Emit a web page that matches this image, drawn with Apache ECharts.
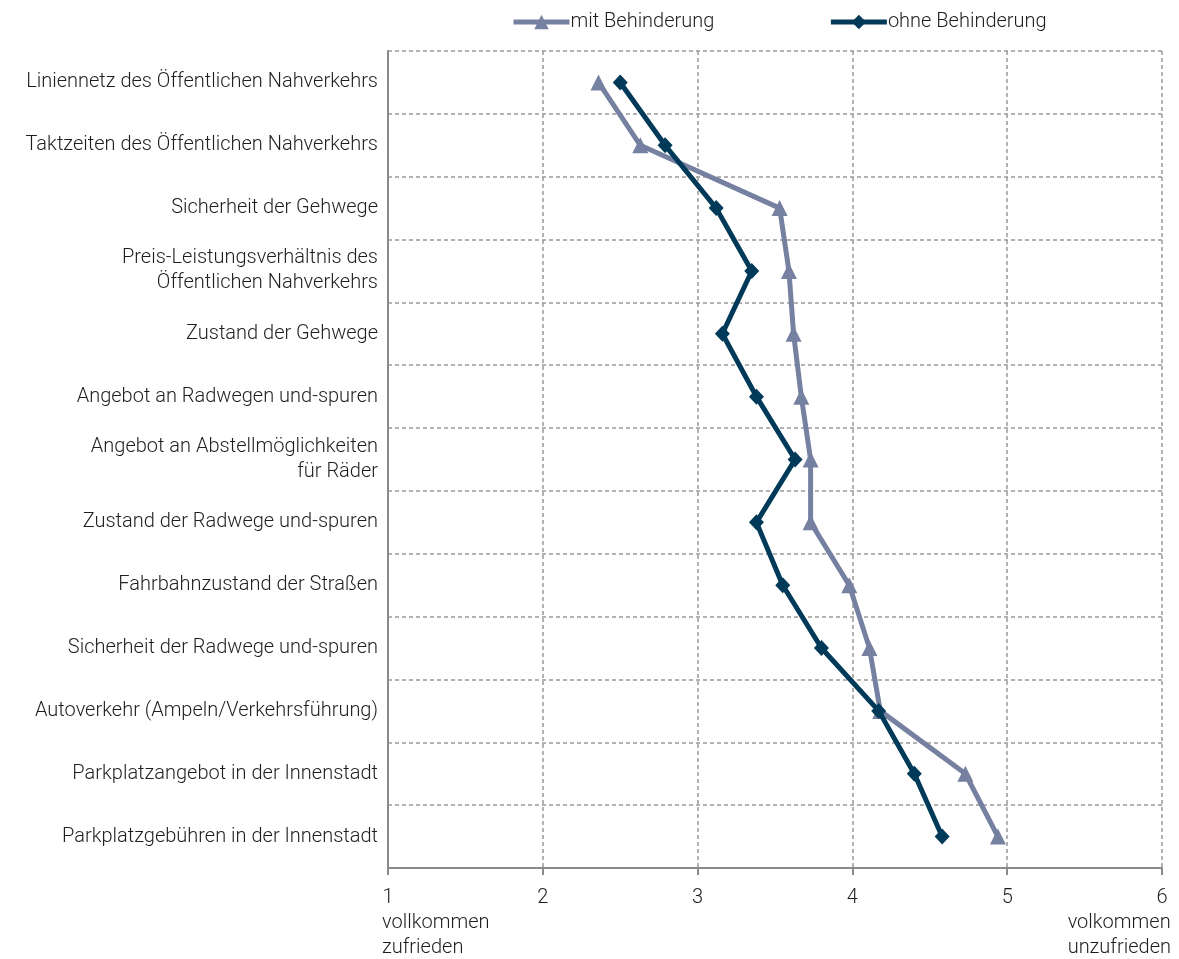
<!DOCTYPE html>
<html>
<head>
<meta charset="utf-8">
<script src="https://cdn.jsdelivr.net/npm/echarts@6/dist/echarts.min.js"></script>
<style>
  html, body { margin: 0; padding: 0; background: #fff; }
  #chart { width: 1179px; height: 959px; }
</style>
</head>
<body>
<div id="chart"></div>
<script>
var categories = [
	'Liniennetz des Öffentlichen Nahverkehrs',
	'Taktzeiten des Öffentlichen Nahverkehrs',
	'Sicherheit der Gehwege',
	'Preis-Leistungsverhältnis des\nÖffentlichen Nahverkehrs',
	'Zustand der Gehwege',
	'Angebot an Radwegen und-spuren',
	'Angebot an Abstellmöglichkeiten\nfür Räder',
	'Zustand der Radwege und-spuren',
	'Fahrbahnzustand der Straßen',
	'Sicherheit der Radwege und-spuren',
	'Autoverkehr (Ampeln/Verkehrsführung)',
	'Parkplatzangebot in der Innenstadt',
	'Parkplatzgebühren in der Innenstadt'
];
var mitBehinderung = [2.36, 2.63, 3.53, 3.59, 3.62, 3.67, 3.73, 3.73, 3.98, 4.11, 4.18, 4.73, 4.94];
var ohneBehinderung = [2.50, 2.79, 3.12, 3.35, 3.16, 3.38, 3.63, 3.38, 3.55, 3.80, 4.17, 4.40, 4.58];
var seriesNames = ['mit Behinderung', 'ohne Behinderung'];
var leftNote = 'vollkommen\nzufrieden';
var rightNote = 'volkommen\nunzufrieden';

var font = 'Roboto';
var fs = 20;
var textColor = '#1e1e1e';
var chart = echarts.init(document.getElementById('chart'));
var option = {
	animation: false,
	textStyle: { fontFamily: font, fontWeight: 300, color: textColor },
	legend: {
		top: 7,
		left: 506,
		itemWidth: 56,
		itemHeight: 18,
		itemGap: 114,
		lineStyle: { width: 5 },
		textStyle: { fontSize: fs, fontFamily: font, fontWeight: 300, color: textColor, padding: [0, 0, 0, -4] },
		data: seriesNames
	},
	grid: { left: 388, right: 17, top: 51, bottom: 91 },
	xAxis: {
		type: 'value',
		min: 1,
		max: 6,
		interval: 1,
		axisLine: { show: true, lineStyle: { color: '#8a8a8a', width: 2 } },
		axisTick: { show: true, length: 7, lineStyle: { color: '#8a8a8a', width: 2 } },
		axisLabel: { fontSize: fs, fontFamily: font, fontWeight: 300, color: textColor, margin: 20 },
		splitLine: { show: true, lineStyle: { color: '#999', width: 1.5, type: [4, 3] } }
	},
	yAxis: {
		type: 'category',
		inverse: true,
		data: categories,
		axisLine: { show: true, lineStyle: { color: '#8a8a8a', width: 2 } },
		axisTick: { show: false },
		axisLabel: { fontSize: fs, lineHeight: 25, fontFamily: font, fontWeight: 300, color: textColor, margin: 10, align: 'right' },
		splitLine: { show: true, interval: 0, lineStyle: { color: '#999', width: 1.5, type: [4, 3] } }
	},
	graphic: [
		{ type: 'text', left: 382, top: 910, style: { text: leftNote, fontSize: fs, lineHeight: 25, fontFamily: font, fontWeight: 300, fill: textColor } },
		{ type: 'text', right: 8, top: 910, style: { text: rightNote, fontSize: fs, lineHeight: 25, fontFamily: font, fontWeight: 300, fill: textColor, align: 'right' } }
	],
	series: [
		{
			name: seriesNames[0],
			type: 'line',
			data: mitBehinderung,
			symbol: 'triangle',
			symbolSize: [16, 16],
			lineStyle: { color: '#7680a0', width: 5 },
			itemStyle: { color: '#7680a0' },
			z: 2
		},
		{
			name: seriesNames[1],
			type: 'line',
			data: ohneBehinderung,
			symbol: 'diamond',
			symbolSize: [15, 16],
			lineStyle: { color: '#003a58', width: 5 },
			itemStyle: { color: '#003a58' },
			z: 3
		}
	]
};
chart.setOption(option);
</script>
</body>
</html>
